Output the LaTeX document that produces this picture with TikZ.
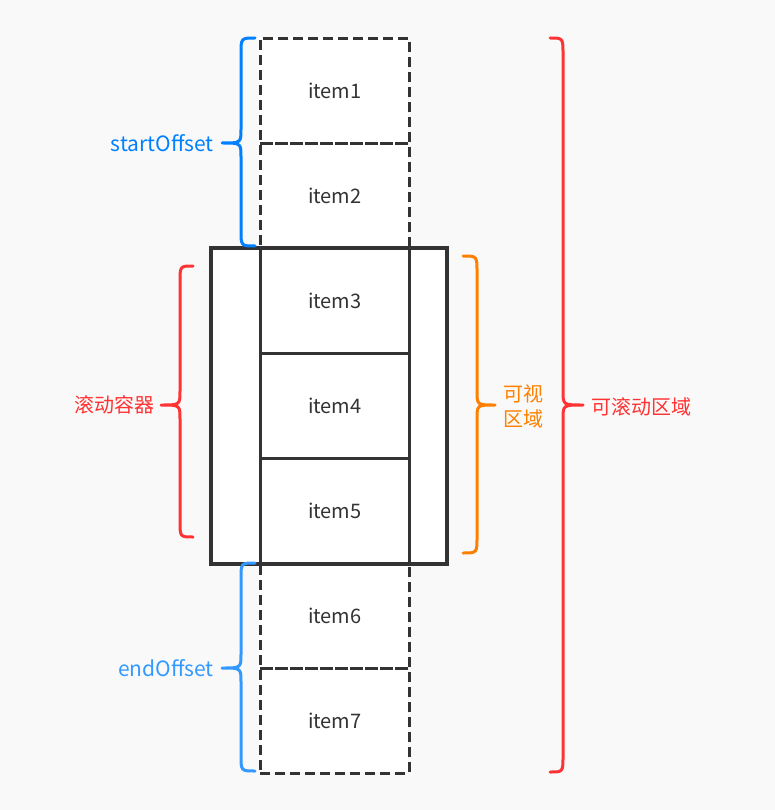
\documentclass[tikz,border=0pt]{standalone}
\usepackage{fontspec}
\setmainfont{Noto Sans CJK SC}
\begin{document}
\begin{tikzpicture}[x=1pt,y=-1pt,
  itembox/.style={draw=black!80,line width=2.6pt,minimum width=149pt,minimum height=105pt,inner sep=0pt,anchor=north west,font=\fontsize{20}{24}\selectfont,text=black!80},
  dashbox/.style={itembox,dash pattern=on 10pt off 5pt},
  bracepath/.style={line width=3pt,line cap=round,line join=round},
  lbl/.style={font=\fontsize{20}{25}\selectfont,inner sep=0pt}
]
\definecolor{bgc}{HTML}{F9F9F9}
\definecolor{blueA}{HTML}{0080FF}
\definecolor{blueB}{HTML}{3399FF}
\definecolor{redA}{HTML}{FF3333}
\definecolor{orangeA}{HTML}{FF8000}
\fill[bgc] (0,0) rectangle (775,810);
\useasboundingbox (0,0) rectangle (775,810);
% white fills
\fill[white] (210,247) rectangle (445,562);
\fill[white] (259,37) rectangle (408,772);
% container
\node[draw=black!80,line width=2.6pt,minimum width=235pt,minimum height=315pt,inner sep=0pt,anchor=north west] (cont) at (210,247) {};
% items
\node[dashbox] (i1) at (259,37) {item1};
\node[dashbox] (i2) at (259,142) {item2};
\node[itembox] (i3) at (259,247) {item3};
\node[itembox] (i4) at (259,352) {item4};
\node[itembox] (i5) at (259,457) {item5};
\node[dashbox] (i6) at (259,562) {item6};
\node[dashbox] (i7) at (259,667) {item7};
% redraw container outline on top
\draw[black!80,line width=2.6pt] (cont.north west) rectangle (cont.south east);
% braces: ends xe, vertical xv, tip xt
\newcommand{\mybrace}[7]{% color, xe, xv, xt, y1, y2, ym
  \draw[#1,bracepath] (#2,#5) .. controls (#3,#5) .. (#3,#5+16) -- (#3,#7-14)
    .. controls (#3,#7) .. (#4,#7) .. controls (#3,#7) .. (#3,#7+14) -- (#3,#6-16)
    .. controls (#3,#6) .. (#2,#6);}
\mybrace{blueA}{255}{241}{222}{38}{246}{143}
\mybrace{blueB}{255}{241}{222}{563}{771}{668}
\mybrace{redA}{193}{180}{161}{266}{537}{405}
\mybrace{orangeA}{463}{477}{495}{256}{553}{405}
\mybrace{redA}{550}{563}{583}{38}{772}{405}
\node[lbl,text=blueA,anchor=east,font=\fontsize{21}{25}\selectfont] (lso) at (214,143) {startOffset};
\node[lbl,text=blueB,anchor=east,font=\fontsize{21}{25}\selectfont] (leo) at (214,668) {endOffset};
\node[lbl,text=redA,anchor=east] (lsc) at (155,405) {滚动容器};
\node[lbl,text=orangeA,align=left,anchor=west] (lvis) at (503,406) {可视\\区域};
\node[lbl,text=redA,anchor=west] (lall) at (591,407) {可滚动区域};
\end{tikzpicture}
\end{document}
